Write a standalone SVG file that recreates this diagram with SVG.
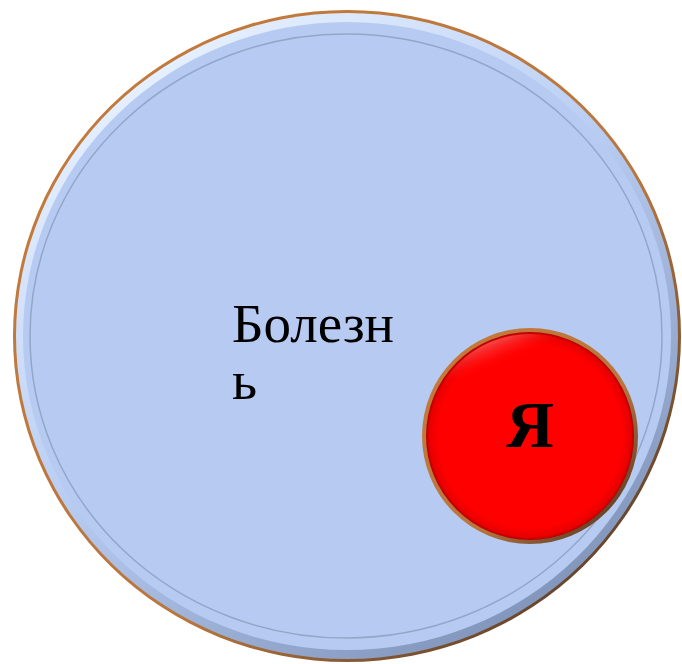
<svg xmlns="http://www.w3.org/2000/svg" width="682" height="664" viewBox="0 0 682 664">
<defs>
<linearGradient id="rim" x1="0.2" y1="0.1" x2="0.8" y2="0.95">
<stop offset="0" stop-color="#e4efff"/>
<stop offset="0.45" stop-color="#b8ccf2"/>
<stop offset="1" stop-color="#7f93b8"/>
</linearGradient>
<linearGradient id="edge" x1="0" y1="0" x2="1" y2="1">
<stop offset="0" stop-color="#c77a3a"/>
<stop offset="0.6" stop-color="#b8763e"/>
<stop offset="1" stop-color="#3a2a20"/>
</linearGradient>
<radialGradient id="redg" cx="0.5" cy="0.5" r="0.5">
<stop offset="0.88" stop-color="#ff0000"/>
<stop offset="0.97" stop-color="#e80000"/>
<stop offset="1" stop-color="#b00000"/>
</radialGradient>
<linearGradient id="redrim" x1="0.3" y1="0" x2="0.7" y2="1">
<stop offset="0" stop-color="#ff9a9a" stop-opacity="0.8"/>
<stop offset="0.15" stop-color="#ff0000" stop-opacity="0"/>
<stop offset="1" stop-color="#ff0000" stop-opacity="0"/>
</linearGradient>
</defs>
<g id="disease">
<ellipse cx="347" cy="336" rx="334" ry="326" fill="url(#edge)"/>
<ellipse cx="347" cy="336" rx="331" ry="323" fill="url(#rim)"/>
<ellipse cx="347" cy="336" rx="324" ry="314" fill="#b7cbf2"/>
<ellipse cx="346" cy="336" rx="316" ry="302" fill="#b7cbf2" stroke="#94a6c8" stroke-width="1.5"/>
<text font-family="'Liberation Serif', 'DejaVu Serif', serif" x="232" y="342" font-size="55" fill="#000">Болезн</text>
<text font-family="'Liberation Serif', 'DejaVu Serif', serif" x="232" y="399" font-size="55" fill="#000">ь</text>
</g>
<g id="me">
<circle cx="530" cy="436" r="108" fill="url(#edge)"/>
<circle cx="530" cy="436" r="104" fill="url(#redg)"/>
<circle cx="530" cy="436" r="102" fill="url(#redrim)"/>
<text font-family="'Liberation Serif', 'DejaVu Serif', serif" x="530" y="447" font-size="66" font-weight="bold" text-anchor="middle" fill="#000">Я</text>
</g>
<g id="connectors"/>
</svg>
